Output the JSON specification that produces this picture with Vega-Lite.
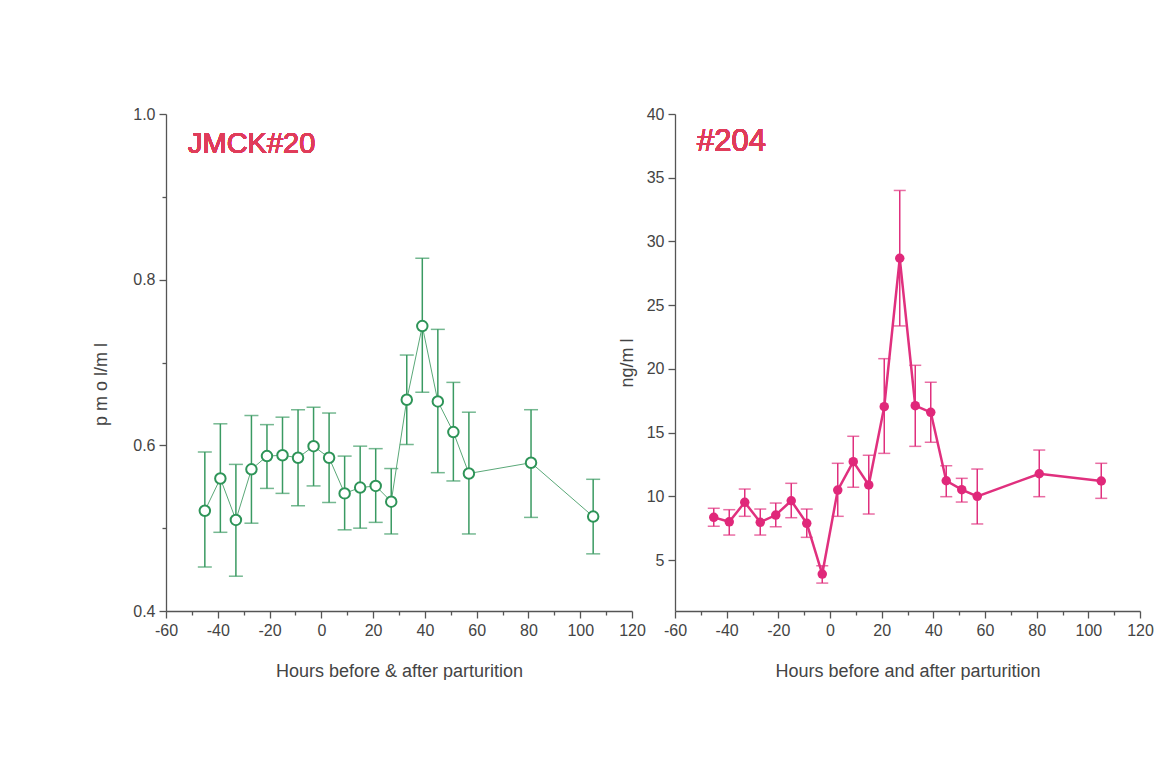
{
  "$schema": "https://vega.github.io/schema/vega-lite/v6.json",
  "background": "white",
  "padding": {"left": 92, "top": 106, "right": 0, "bottom": 0},
  "config": {
    "view": {"stroke": null},
    "font": "Liberation Sans",
    "axis": {
      "domainColor": "#555555",
      "domainWidth": 1.3,
      "tickColor": "#555555",
      "tickWidth": 1.3,
      "labelColor": "#444444",
      "labelFont": "Liberation Sans",
      "labelFontSize": 16,
      "titleColor": "#444444",
      "titleFont": "Liberation Sans",
      "titleFontSize": 18,
      "titleFontWeight": "normal",
      "grid": false,
      "labelPadding": 4
    }
  },
  "datasets": {
    "pmol": [
      {"h": -45, "v": 0.521, "lo": 0.453, "hi": 0.592},
      {"h": -39, "v": 0.560, "lo": 0.495, "hi": 0.626},
      {"h": -33, "v": 0.510, "lo": 0.442, "hi": 0.577},
      {"h": -27, "v": 0.571, "lo": 0.506, "hi": 0.636},
      {"h": -21, "v": 0.587, "lo": 0.548, "hi": 0.625},
      {"h": -15, "v": 0.588, "lo": 0.542, "hi": 0.634},
      {"h": -9, "v": 0.585, "lo": 0.527, "hi": 0.643},
      {"h": -3, "v": 0.599, "lo": 0.551, "hi": 0.646},
      {"h": 3, "v": 0.585, "lo": 0.531, "hi": 0.639},
      {"h": 9, "v": 0.542, "lo": 0.498, "hi": 0.587},
      {"h": 15, "v": 0.549, "lo": 0.500, "hi": 0.599},
      {"h": 21, "v": 0.551, "lo": 0.507, "hi": 0.596},
      {"h": 27, "v": 0.532, "lo": 0.493, "hi": 0.572},
      {"h": 33, "v": 0.655, "lo": 0.601, "hi": 0.709},
      {"h": 39, "v": 0.744, "lo": 0.664, "hi": 0.826},
      {"h": 45, "v": 0.653, "lo": 0.567, "hi": 0.740},
      {"h": 51, "v": 0.616, "lo": 0.557, "hi": 0.676},
      {"h": 57, "v": 0.566, "lo": 0.493, "hi": 0.640},
      {"h": 81, "v": 0.579, "lo": 0.513, "hi": 0.643},
      {"h": 105, "v": 0.514, "lo": 0.469, "hi": 0.559}
    ],
    "ng": [
      {"h": -45, "v": 8.35, "lo": 7.65, "hi": 9.06},
      {"h": -39, "v": 8.0, "lo": 6.96, "hi": 8.95},
      {"h": -33, "v": 9.53, "lo": 8.43, "hi": 10.57},
      {"h": -27, "v": 7.96, "lo": 6.96, "hi": 9.0},
      {"h": -21, "v": 8.53, "lo": 7.61, "hi": 9.47},
      {"h": -15, "v": 9.65, "lo": 8.32, "hi": 11.02},
      {"h": -9, "v": 7.88, "lo": 6.78, "hi": 9.0},
      {"h": -3, "v": 3.90, "lo": 3.19, "hi": 4.55},
      {"h": 3, "v": 10.49, "lo": 8.43, "hi": 12.59},
      {"h": 9, "v": 12.72, "lo": 10.71, "hi": 14.71},
      {"h": 15, "v": 10.89, "lo": 8.61, "hi": 13.22},
      {"h": 21, "v": 17.03, "lo": 13.37, "hi": 20.8},
      {"h": 27, "v": 28.68, "lo": 23.37, "hi": 34.0},
      {"h": 33, "v": 17.11, "lo": 13.92, "hi": 20.28},
      {"h": 39, "v": 16.59, "lo": 14.24, "hi": 18.95},
      {"h": 45, "v": 11.22, "lo": 9.97, "hi": 12.40},
      {"h": 51, "v": 10.52, "lo": 9.55, "hi": 11.41},
      {"h": 57, "v": 10.0, "lo": 7.83, "hi": 12.14},
      {"h": 81, "v": 11.77, "lo": 9.97, "hi": 13.63},
      {"h": 105, "v": 11.2, "lo": 9.84, "hi": 12.59}
    ]
  },
  "hconcat": [
    {
      "width": 466,
      "height": 497,
      "data": {"name": "pmol"},
      "encoding": {
        "x": {
          "field": "h", "type": "quantitative",
          "scale": {"domain": [-60, 120], "nice": false, "zero": false},
          "axis": {
            "title": "Hours before & after parturition",
            "values": [-60, -50, -40, -30, -20, -10, 0, 10, 20, 30, 40, 50, 60, 70, 80, 90, 100, 110, 120],
            "labelExpr": "datum.value % 20 == 0 ? '' + datum.value : ''",
            "tickSize": {"condition": {"test": "datum.value % 20 == 0", "value": 7}, "value": 4},
            "titlePadding": 24,
            "labelFlush": false,
            "labelOverlap": false
          }
        }
      },
      "layer": [
        {
          "mark": {"type": "rule", "color": "#3a9a62", "strokeWidth": 1.5},
          "encoding": {
            "y": {"field": "lo", "type": "quantitative",
              "scale": {"domain": [0.4, 1.0], "nice": false, "zero": false},
              "axis": {
                "title": "p m o l/m l",
                "values": [0.4, 0.5, 0.6, 0.7, 0.8, 0.9, 1.0],
                "labelExpr": "round(datum.value * 10) % 2 == 0 ? format(datum.value, '.1f') : ''",
                "tickSize": {"condition": {"test": "round(datum.value * 10) % 2 == 0", "value": 7}, "value": 4},
                "titlePadding": 22,
                "titleY": 270,
                "labelFlush": false,
                "labelOverlap": false
              }
            },
            "y2": {"field": "hi"}
          }
        },
        {
          "mark": {"type": "tick", "color": "#3a9a62", "orient": "horizontal", "size": 14, "thickness": 1.5},
          "encoding": {"y": {"field": "lo", "type": "quantitative"}}
        },
        {
          "mark": {"type": "tick", "color": "#3a9a62", "orient": "horizontal", "size": 14, "thickness": 1.5},
          "encoding": {"y": {"field": "hi", "type": "quantitative"}}
        },
        {
          "mark": {"type": "line", "color": "#5aa878", "strokeWidth": 1},
          "encoding": {"y": {"field": "v", "type": "quantitative"}}
        },
        {
          "mark": {"type": "point", "shape": "circle", "filled": false, "fill": "white", "fillOpacity": 1, "color": "#2e9458", "strokeWidth": 2, "size": 110, "opacity": 1},
          "encoding": {"y": {"field": "v", "type": "quantitative"}}
        },
        {
          "mark": {"type": "text", "text": "JMCK#20", "color": "#e03c5a", "fontSize": 29, "fontWeight": "normal", "align": "left", "baseline": "middle", "font": "Liberation Sans"},
          "encoding": {"x": {"datum": -51.5}, "y": {"datum": 0.964}}
        }
      ]
    },
    {
      "width": 465,
      "height": 497,
      "data": {"name": "ng"},
      "encoding": {
        "x": {
          "field": "h", "type": "quantitative",
          "scale": {"domain": [-60, 120], "nice": false, "zero": false},
          "axis": {
            "title": "Hours before and after parturition",
            "values": [-60, -50, -40, -30, -20, -10, 0, 10, 20, 30, 40, 50, 60, 70, 80, 90, 100, 110, 120],
            "labelExpr": "datum.value % 20 == 0 ? '' + datum.value : ''",
            "tickSize": {"condition": {"test": "datum.value % 20 == 0", "value": 7}, "value": 4},
            "titlePadding": 24,
            "labelFlush": false,
            "labelOverlap": false
          }
        }
      },
      "layer": [
        {
          "mark": {"type": "line", "color": "#e0307e", "strokeWidth": 2.5},
          "encoding": {
            "y": {"field": "v", "type": "quantitative",
              "scale": {"domain": [1, 40], "nice": false, "zero": false},
              "axis": {
                "title": "ng/m l",
                "values": [5, 7.5, 10, 12.5, 15, 17.5, 20, 22.5, 25, 27.5, 30, 32.5, 35, 37.5, 40],
                "labelExpr": "round(datum.value * 2) % 10 == 0 ? format(datum.value, 'd') : ''",
                "tickSize": {"condition": {"test": "round(datum.value * 2) % 10 == 0", "value": 7}, "value": 4},
                "titlePadding": 10,
                "labelFlush": false,
                "labelOverlap": false
              }
            }
          }
        },
        {
          "mark": {"type": "rule", "color": "#e0307e", "strokeWidth": 1.5},
          "encoding": {
            "y": {"field": "lo", "type": "quantitative"},
            "y2": {"field": "hi"}
          }
        },
        {
          "mark": {"type": "tick", "color": "#e0307e", "orient": "horizontal", "size": 12, "thickness": 1.5},
          "encoding": {"y": {"field": "lo", "type": "quantitative"}}
        },
        {
          "mark": {"type": "tick", "color": "#e0307e", "orient": "horizontal", "size": 12, "thickness": 1.5},
          "encoding": {"y": {"field": "hi", "type": "quantitative"}}
        },
        {
          "mark": {"type": "point", "shape": "circle", "filled": true, "color": "#e0287a", "size": 90, "opacity": 1},
          "encoding": {"y": {"field": "v", "type": "quantitative"}}
        },
        {
          "mark": {"type": "text", "text": "#204", "color": "#e03c5a", "fontSize": 31, "fontWeight": "normal", "align": "left", "baseline": "middle", "font": "Liberation Sans"},
          "encoding": {"x": {"datum": -51.5}, "y": {"datum": 37.8}}
        }
      ]
    }
  ],
  "spacing": 43,
  "bounds": "flush"
}
